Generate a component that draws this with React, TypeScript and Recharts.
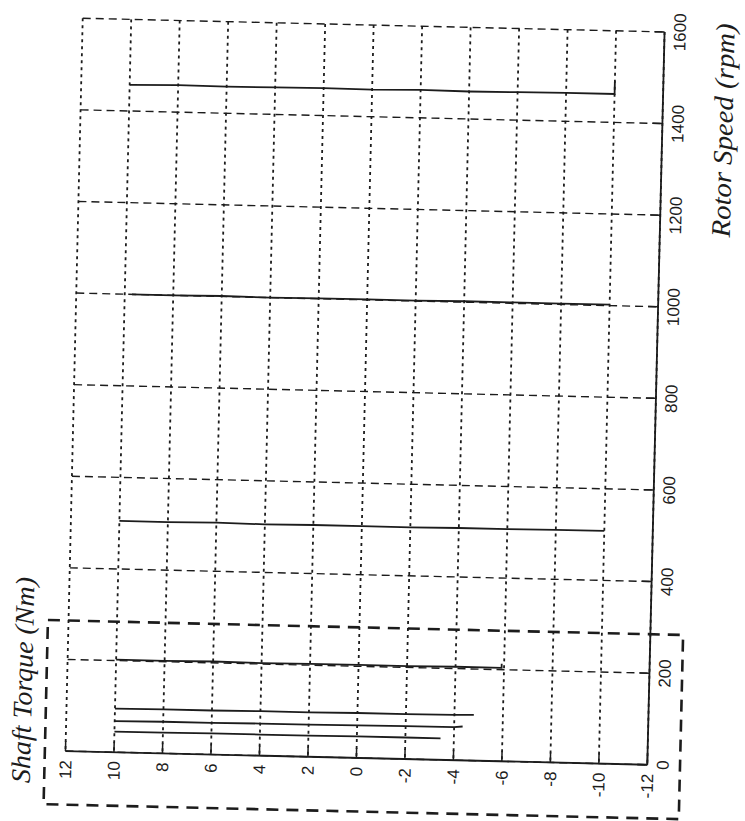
import React from "react";
import { LineChart, Line, XAxis, YAxis, CartesianGrid, ReferenceArea, Label } from "recharts";

// ---- axis ticks ----
const torqueTicks = [12, 10, 8, 6, 4, 2, 0, -2, -4, -6, -8, -10, -12];
const speedTicks = [0, 200, 400, 600, 800, 1000, 1200, 1400, 1600];

// ---- measured runs: shaft torque (Nm) vs rotor speed (rpm) ----
const run1Torque = [10, 8, 6, 4, 2, 0, -2, -4, -6, -8, -10, -10];
const run1Speed = [1457, 1459, 1458, 1459, 1460, 1459, 1461, 1460, 1461, 1462, 1462, 1490];

const run2Torque = [9.7, 8, 6, 4, 2, 0, -2, -4, -6, -8, -10];
const run2Speed = [1000, 1000, 1001, 1000, 1001, 1001, 1001, 1002, 1002, 1002, 1002];

const run3Torque = [10, 8, 6, 4, 2, 0, -2, -4, -6, -8, -10];
const run3Speed = [505, 505, 506, 505, 506, 506, 506, 507, 507, 508, 508];

const run4Torque = [10, 8, 6, 4, 2, 0, -2, -4, -5.9, -5.9];
const run4Speed = [202, 202, 203, 202, 203, 203, 203, 204, 204, 213];

const run5Torque = [10, 8, 6, 4, 2, 0, -2, -4, -4.8];
const run5Speed = [95, 96, 96, 97, 97, 98, 98, 99, 100];

const run6Torque = [10, 8, 6, 4, 2, 0, -2, -4, -4.35];
const run6Speed = [68, 69, 69, 70, 70, 71, 72, 72, 74];

const run7Torque = [10, 8, 6, 4, 2, 0, -2, -3.45];
const run7Speed = [45, 45, 46, 46, 46, 47, 47, 47];

// ---- highlighted low-speed region (dashed annotation box) ----
const boxTorqueLeft = 12.85;
const boxTorqueRight = -13.35;
const boxSpeedBottom = -117;
const boxSpeedTop = 285;

const zip = (t: number[], s: number[]) => t.map((v, i) => ({ t: v, s: s[i] }));

const runs = [
  zip(run1Torque, run1Speed),
  zip(run2Torque, run2Speed),
  zip(run3Torque, run3Speed),
  zip(run4Torque, run4Speed),
  zip(run5Torque, run5Speed),
  zip(run6Torque, run6Speed),
  zip(run7Torque, run7Speed),
];

const INK = "#1c1c1c";
const TICK_FONT = "'Liberation Sans', Arial, sans-serif";
const TITLE_FONT = "'Liberation Serif', 'Times New Roman', serif";

const TorqueTick = (props: any) => {
  const { x, y, payload } = props;
  return (
    <g>
      <line x1={x} x2={x} y1={y - 9} y2={y - 19} stroke={INK} strokeWidth={1.5} />
      <text
        x={x}
        y={y}
        transform={`rotate(-90 ${x} ${y})`}
        textAnchor="end"
        dy="0.36em"
        fontSize={17}
        fontFamily={TICK_FONT}
        fill={INK}
      >
        {payload.value}
      </text>
    </g>
  );
};

const SpeedTick = (props: any) => {
  const { x, y, payload } = props;
  return (
    <g>
      <line x1={x - 9} x2={x - 19} y1={y} y2={y} stroke={INK} strokeWidth={1.5} />
      <text
        x={x}
        y={y}
        transform={`rotate(-90 ${x} ${y})`}
        textAnchor="middle"
        dy="0.72em"
        fontSize={17}
        fontFamily={TICK_FONT}
        fill={INK}
      >
        {payload.value}
      </text>
    </g>
  );
};

const TorqueTitle = (props: any) => {
  const vb = props.viewBox || { x: 74, y: 758 };
  const cx = vb.x - 44;
  const cy = vb.y - 70;
  return (
    <text
      x={cx}
      y={cy}
      transform={`rotate(-90 ${cx} ${cy})`}
      textAnchor="middle"
      dominantBaseline="central"
      fontFamily={TITLE_FONT}
      fontStyle="italic"
      fontSize={27}
      textLength={206}
      lengthAdjust="spacingAndGlyphs"
      fill={INK}
    >
      Shaft Torque (Nm)
    </text>
  );
};

const SpeedTitle = (props: any) => {
  const vb = props.viewBox || { x: 656, y: 25 };
  const cx = vb.x + 61;
  const cy = vb.y + 97;
  return (
    <text
      x={cx}
      y={cy}
      transform={`rotate(-90 ${cx} ${cy})`}
      textAnchor="middle"
      dominantBaseline="central"
      fontFamily={TITLE_FONT}
      fontStyle="italic"
      fontSize={27}
      textLength={214}
      lengthAdjust="spacingAndGlyphs"
      fill={INK}
    >
      Rotor Speed (rpm)
    </text>
  );
};

export default function App() {
  return (
    <div
      style={{
        position: "absolute",
        left: 0,
        top: 0,
        width: 745,
        height: 821,
        overflow: "hidden",
        background: "#fff",
      }}
    >
      <div
        style={{
          width: 745,
          height: 821,
          transform: "rotate(1.35deg)",
          transformOrigin: "365px 392px",
        }}
      >
        <LineChart width={745} height={821} margin={{ top: 25, right: 29, bottom: 13, left: 74 }}>
          <CartesianGrid horizontal={true} vertical={false} stroke={INK} strokeWidth={1.4} strokeDasharray="8 5" />
          <CartesianGrid horizontal={false} vertical={true} stroke={INK} strokeWidth={1.8} strokeDasharray="3 4" />
          <XAxis
            type="number"
            dataKey="t"
            domain={[-12, 12]}
            reversed
            ticks={torqueTicks}
            interval={0}
            allowDataOverflow
            height={50}
            tickSize={0}
            tickMargin={9}
            tickLine={false}
            axisLine={{ stroke: INK, strokeWidth: 1.8 }}
            tick={<TorqueTick />}
          >
            <Label content={<TorqueTitle />} />
          </XAxis>
          <YAxis
            type="number"
            dataKey="s"
            orientation="right"
            domain={[0, 1600]}
            ticks={speedTicks}
            interval={0}
            allowDataOverflow
            width={60}
            tickSize={0}
            tickMargin={9}
            tickLine={false}
            axisLine={{ stroke: INK, strokeWidth: 1.8 }}
            tick={<SpeedTick />}
          >
            <Label content={<SpeedTitle />} />
          </YAxis>
          <ReferenceArea
            x1={boxTorqueLeft}
            x2={boxTorqueRight}
            y1={boxSpeedBottom}
            y2={boxSpeedTop}
            ifOverflow="visible"
            fill="none"
            fillOpacity={0}
            stroke={INK}
            strokeWidth={2.6}
            strokeDasharray="12 8"
          />
          {runs.map((d, i) => (
            <Line
              key={i}
              data={d}
              dataKey="s"
              type="linear"
              stroke={INK}
              strokeWidth={1.8}
              dot={false}
              activeDot={false}
              isAnimationActive={false}
            />
          ))}
        </LineChart>
      </div>
    </div>
  );
}
